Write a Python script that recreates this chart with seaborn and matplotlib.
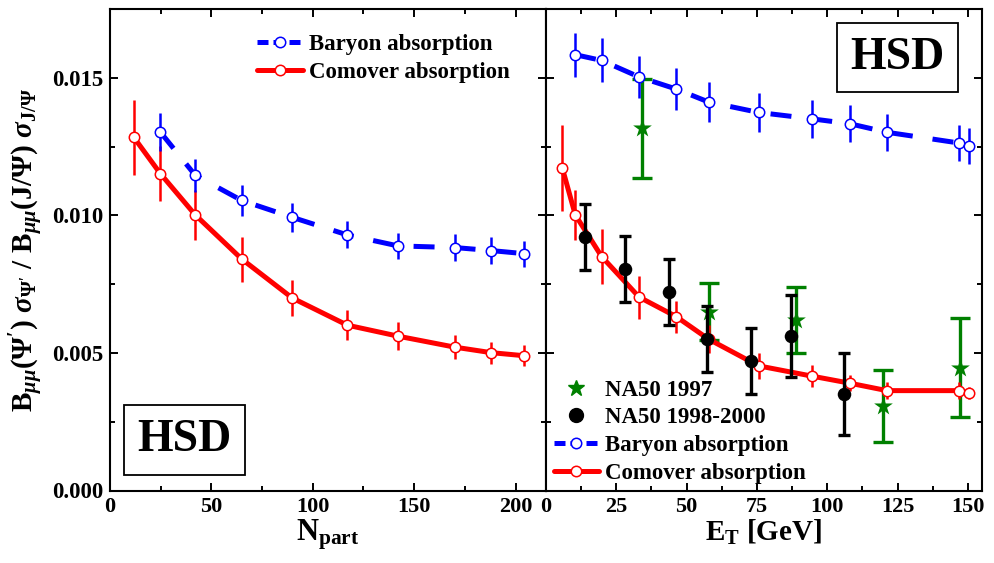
import matplotlib
matplotlib.use("Agg")
import matplotlib.pyplot as plt
from matplotlib.ticker import MultipleLocator, FormatStrFormatter
from matplotlib.lines import Line2D
import seaborn as sns
import numpy as np

# ---- left panel: ratio vs N_part ----
npart_comover = [11.8, 24.8, 42, 65, 89.8, 117, 142, 170, 188, 204]
ratio_comover_npart = [0.01283, 0.01152, 0.01002, 0.00841, 0.0070, 0.00601, 0.00561, 0.00521, 0.00501, 0.0049]
err_comover_npart = [0.00135, 0.0010, 0.0009, 0.00082, 0.00065, 0.00055, 0.0005, 0.00044, 0.0004, 0.00038]

npart_baryon = [24.8, 42, 65, 89.8, 117, 142, 170, 188, 204]
ratio_baryon_npart = [0.01303, 0.01146, 0.01054, 0.00993, 0.00929, 0.00889, 0.00883, 0.00872, 0.00861]
err_baryon_npart = [0.00068, 0.0006, 0.00056, 0.00053, 0.00049, 0.00048, 0.00048, 0.00048, 0.00047]

# ---- right panel: ratio vs E_T ----
et_comover = [5.8, 10.4, 19.8, 33.1, 46.3, 57.8, 75.6, 94.4, 108, 121.2, 146.8, 150.4]
ratio_comover_et = [0.01172, 0.01002, 0.0085, 0.00703, 0.00632, 0.0055, 0.00453, 0.00416, 0.0039, 0.00363, 0.00363, 0.00353]
err_comover_et = [0.00157, 0.0009, 0.001, 0.00078, 0.00058, 0.0005, 0.00047, 0.0004, 0.0003, 0.0003, 0.0003, 0.00022]

et_baryon = [10.4, 19.8, 33.1, 46.3, 57.8, 75.6, 94.4, 108, 121.2, 146.8, 150.4]
ratio_baryon_et = [0.01584, 0.01563, 0.01503, 0.01459, 0.01412, 0.01374, 0.01351, 0.01333, 0.01302, 0.01263, 0.01253]
err_baryon_et = [0.0008, 0.0008, 0.00077, 0.00075, 0.00073, 0.0007, 0.00069, 0.00068, 0.00068, 0.00065, 0.00065]

et_na50_9800 = [13.9, 28.1, 43.9, 57.2, 72.9, 87.1, 106.1]
ratio_na50_9800 = [0.00921, 0.00804, 0.00721, 0.0055, 0.00472, 0.00562, 0.0035]
err_na50_9800 = [0.0012, 0.0012, 0.0012, 0.0012, 0.0012, 0.0015, 0.0015]

et_na50_97 = [34.1, 57.8, 88.7, 119.9, 147.1]
ratio_na50_97 = [0.01317, 0.0065, 0.0062, 0.00307, 0.00447]
err_na50_97 = [0.0018, 0.00103, 0.0012, 0.0013, 0.0018]

sns.set_theme(style="ticks")
plt.rcParams['font.family'] = ['Liberation Serif', 'DejaVu Serif']
plt.rcParams['font.weight'] = 'bold'
plt.rcParams['mathtext.fontset'] = 'custom'
plt.rcParams['mathtext.rm'] = 'Liberation Serif:bold'
plt.rcParams['mathtext.it'] = 'Liberation Serif:italic:bold'
plt.rcParams['mathtext.bf'] = 'Liberation Serif:bold'
for key in ('text.color', 'axes.labelcolor', 'xtick.color', 'ytick.color', 'axes.edgecolor'):
    plt.rcParams[key] = 'black'

RED = '#ff0000'
BLUE = '#0000ff'
GREEN = '#008000'

fig = plt.figure(figsize=(9.94, 5.63), dpi=100)
ax1 = fig.add_axes([110 / 994, 72.5 / 563, 436 / 994, 481.5 / 563])
ax2 = fig.add_axes([546 / 994, 72.5 / 563, 436 / 994, 481.5 / 563])

line_kw = dict(lw=3.6, marker='o', markersize=7.5, markerfacecolor='white',
               markeredgewidth=1.1, sort=False, estimator=None)


def model_curves(ax, xc, yc, ec, xb, yb, eb):
    ax.errorbar(xc, yc, yerr=ec, fmt='none', ecolor=RED, elinewidth=1.8, capsize=0, zorder=2)
    ax.errorbar(xb, yb, yerr=eb, fmt='none', ecolor=BLUE, elinewidth=1.8, capsize=0, zorder=2)
    sns.lineplot(x=xb, y=yb, ax=ax, color=BLUE, markeredgecolor=BLUE,
                 dashes=False, linestyle=(0, (4.2, 4.0)), zorder=3, **line_kw)
    sns.lineplot(x=xc, y=yc, ax=ax, color=RED, markeredgecolor=RED, zorder=3, **line_kw)


model_curves(ax1, npart_comover, ratio_comover_npart, err_comover_npart,
             npart_baryon, ratio_baryon_npart, err_baryon_npart)

# right panel: data below / above model curves
ax2.errorbar(et_na50_97, ratio_na50_97, yerr=err_na50_97, fmt='none', ecolor=GREEN,
             elinewidth=2.4, capsize=7.5, capthick=2.4, zorder=1)
sns.scatterplot(x=et_na50_97, y=ratio_na50_97, ax=ax2, color=GREEN, marker='*', s=200,
                linewidth=0, zorder=1.5)
model_curves(ax2, et_comover, ratio_comover_et, err_comover_et,
             et_baryon, ratio_baryon_et, err_baryon_et)
ax2.errorbar(et_na50_9800, ratio_na50_9800, yerr=err_na50_9800, fmt='none', ecolor='black',
             elinewidth=2.4, capsize=4.5, capthick=2.4, zorder=4)
sns.scatterplot(x=et_na50_9800, y=ratio_na50_9800, ax=ax2, color='black', marker='o', s=95,
                linewidth=0, zorder=5)

for ax in (ax1, ax2):
    ax.set_ylim(0, 0.0175)
    ax.yaxis.set_major_locator(MultipleLocator(0.005))
    ax.yaxis.set_minor_locator(MultipleLocator(0.0025))
    ax.tick_params(which='both', direction='in', top=True, right=True, width=1.4, colors='black')
    ax.tick_params(which='major', length=6)
    ax.tick_params(which='minor', length=3.5)
    ax.tick_params(axis='x', labelsize=16, pad=5)
    ax.tick_params(axis='y', labelsize=16.5, pad=5)
    for s in ax.spines.values():
        s.set_linewidth(1.5)
        s.set_color('black')
    ax.set_facecolor('white')

ax1.set_xlim(0, 215)
ax1.xaxis.set_major_locator(MultipleLocator(50))
ax1.xaxis.set_minor_locator(MultipleLocator(25))
ax1.yaxis.set_major_formatter(FormatStrFormatter('%.3f'))

ax2.set_xlim(0, 155)
ax2.xaxis.set_major_locator(MultipleLocator(25))
ax2.xaxis.set_minor_locator(MultipleLocator(12.5))
ax2.tick_params(axis='y', labelleft=False)

for ax in (ax1, ax2):
    for lab in ax.get_xticklabels() + ax.get_yticklabels():
        lab.set_fontweight('bold')

ax1.set_xlabel(r'$\mathrm{N}_{\mathrm{part}}$', fontsize=22, labelpad=0)
ax2.set_xlabel(r'$\mathrm{E}_{\mathrm{T}}$ [GeV]', fontsize=21, fontweight='bold', labelpad=0)
ax1.set_ylabel(r"$\mathrm{B}_{\mu\mu}(\Psi')\ \sigma_{\Psi'}\ /\ \mathrm{B}_{\mu\mu}(\mathrm{J}/\Psi)\ \sigma_{\mathrm{J}/\Psi}$",
               fontsize=21, labelpad=4)
ax2.set_ylabel('')

# legends
h_baryon = Line2D([], [], color=BLUE, lw=3.6, linestyle=(0, (2.2, 1.0)), marker='o', markersize=7.5,
                  markerfacecolor='white', markeredgecolor=BLUE, markeredgewidth=1.1)
h_comover = Line2D([], [], color=RED, lw=3.6, marker='o', markersize=7.5,
                   markerfacecolor='white', markeredgecolor=RED, markeredgewidth=1.1)
h_97 = Line2D([], [], color=GREEN, lw=0, marker='*', markersize=12)
h_9800 = Line2D([], [], color='black', lw=0, marker='o', markersize=10)

leg_kw = dict(frameon=False, handlelength=2.0, handletextpad=0.25, labelspacing=0.3,
              prop={'family': 'Liberation Serif', 'weight': 'bold', 'size': 16.5})
ax1.legend([h_baryon, h_comover], ['Baryon absorption', 'Comover absorption'],
           loc='upper left', bbox_to_anchor=(0.29, 0.99), **leg_kw)
ax2.legend([h_97, h_9800, h_baryon, h_comover],
           ['NA50 1997', 'NA50 1998-2000', 'Baryon absorption', 'Comover absorption'],
           loc='lower left', bbox_to_anchor=(-0.03, -0.03), **leg_kw)

box = dict(boxstyle='square,pad=0.3', facecolor='white', edgecolor='black', linewidth=1.3)
ax1.text(0.171, 0.105, 'HSD', transform=ax1.transAxes, fontsize=33, fontweight='bold',
         ha='center', va='center', bbox=box)
ax2.text(0.806, 0.899, 'HSD', transform=ax2.transAxes, fontsize=33, fontweight='bold',
         ha='center', va='center', bbox=box)

fig.savefig('out.png', dpi=100, facecolor='white')
